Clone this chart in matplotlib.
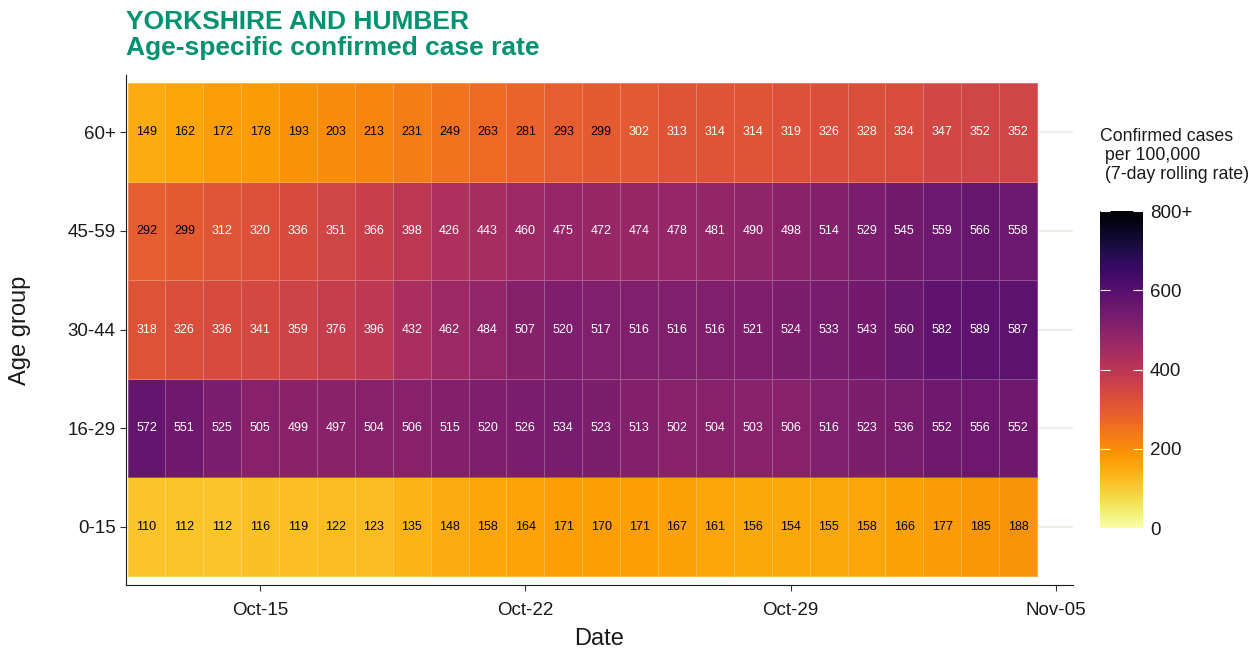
import numpy as np
import pandas as pd
import matplotlib
matplotlib.use('Agg')
import matplotlib.pyplot as plt
import matplotlib.dates as mdates

plt.rcParams['font.family'] = ['Liberation Sans', 'DejaVu Sans']

# Data: 7-day rolling case rate per 100,000
dates = pd.date_range('2020-10-12', '2020-11-04', freq='D')
age_groups = ['0-15', '16-29', '30-44', '45-59', '60+']

rate_0_15 = [110, 112, 112, 116, 119, 122, 123, 135, 148, 158, 164, 171,
             170, 171, 167, 161, 156, 154, 155, 158, 166, 177, 185, 188]
rate_16_29 = [572, 551, 525, 505, 499, 497, 504, 506, 515, 520, 526, 534,
              523, 513, 502, 504, 503, 506, 516, 523, 536, 552, 556, 552]
rate_30_44 = [318, 326, 336, 341, 359, 376, 396, 432, 462, 484, 507, 520,
              517, 516, 516, 516, 521, 524, 533, 543, 560, 582, 589, 587]
rate_45_59 = [292, 299, 312, 320, 336, 351, 366, 398, 426, 443, 460, 475,
              472, 474, 478, 481, 490, 498, 514, 529, 545, 559, 566, 558]
rate_60 = [149, 162, 172, 178, 193, 203, 213, 231, 249, 263, 281, 293,
           299, 302, 313, 314, 314, 319, 326, 328, 334, 347, 352, 352]

rates = np.array([rate_0_15, rate_16_29, rate_30_44, rate_45_59, rate_60])

cbar_ticks = [0, 200, 400, 600, 800]
cbar_labels = ['0', '200', '400', '600', '800+']

fig = plt.figure(figsize=(12.6, 6.49), dpi=100)
ax = fig.add_axes([0.1, 0.0986, 0.7516, 0.7858])

xnum = mdates.date2num(dates)
xedges = np.append(xnum - 0.5, xnum[-1] + 0.5)
yedges = np.arange(len(age_groups) + 1) - 0.5

cmap = plt.get_cmap('inferno_r')
# grid lines behind tiles
for i in range(len(age_groups)):
    ax.axhline(i, color='#ebebe4', lw=1.2, zorder=0)

mesh = ax.pcolormesh(xedges, yedges, rates, cmap=cmap, vmin=0, vmax=800,
                     edgecolors=(1, 1, 1, 0.25), linewidth=0.6, zorder=1)

for i in range(len(age_groups)):
    for j in range(len(dates)):
        v = rates[i, j]
        ax.text(xnum[j], i, str(v), ha='center', va='center', fontsize=9,
                color='black' if v < 300 else 'white', zorder=3)

ax.set_xlim(xnum[0] - 0.54, mdates.date2num(pd.Timestamp('2020-11-05')) + 0.45)
ax.set_ylim(-0.59, 4.58)
ax.set_yticks(range(len(age_groups)))
ax.set_yticklabels(age_groups)
ax.set_xticks(mdates.date2num(pd.to_datetime(['2020-10-15', '2020-10-22', '2020-10-29', '2020-11-05'])))
ax.xaxis.set_major_formatter(mdates.DateFormatter('%b-%d'))

ax.tick_params(axis='both', labelsize=13.5, length=4, color='#333333', labelcolor='#1a1a1a')
ax.tick_params(axis='x', pad=8)
ax.spines['top'].set_visible(False)
ax.spines['right'].set_visible(False)
ax.spines['left'].set_color('#1a1a1a')
ax.spines['bottom'].set_color('#1a1a1a')
ax.set_xlabel('Date', fontsize=17, color='#1a1a1a', labelpad=7)
ax.set_ylabel('Age group', fontsize=17, color='#1a1a1a', labelpad=26)

fig.text(0.1, 0.966, 'YORKSHIRE AND HUMBER', fontsize=19, fontweight='bold',
         color='#009270', ha='left', va='center')
fig.text(0.1, 0.926, 'Age-specific confirmed case rate', fontsize=19, fontweight='bold',
         color='#009270', ha='left', va='center')

# colour bar
cax = fig.add_axes([0.873, 0.1864, 0.034, 0.4884])
cb = fig.colorbar(mesh, cax=cax, ticks=cbar_ticks)
cb.ax.set_yticklabels(cbar_labels)
cb.outline.set_visible(False)
cb.ax.tick_params(direction='in', color='white', length=7, width=0.8,
                  left=True, right=True, labelsize=13.5, labelcolor='#1a1a1a', pad=5)
fig.text(0.873, 0.76, 'Confirmed cases\n per 100,000\n (7-day rolling rate)',
         fontsize=12.8, color='#1a1a1a', ha='left', va='center', linespacing=1.15)

fig.savefig('out.png', dpi=100)
